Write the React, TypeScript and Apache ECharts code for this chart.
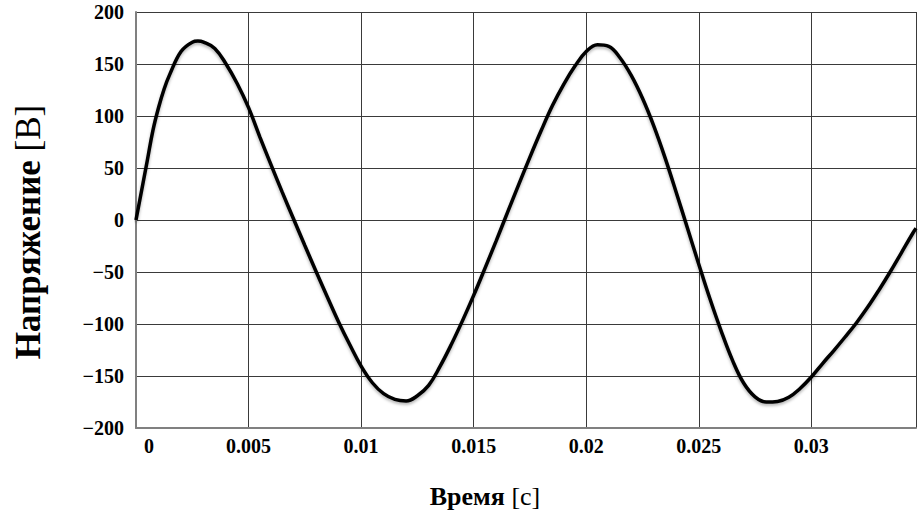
import React, { useEffect, useRef } from "react";
import * as echarts from "echarts";

// Time [s] and voltage [V]
const times: number[] = [
  0, 0.0005, 0.00075, 0.001, 0.00125, 0.0015, 0.002, 0.0025, 0.00275, 0.003,
  0.0035, 0.004, 0.0045, 0.005, 0.0055, 0.006, 0.0065, 0.007, 0.0075, 0.008,
  0.0085, 0.009, 0.0095, 0.01, 0.0105, 0.011, 0.0115, 0.012, 0.0125, 0.013,
  0.0135, 0.014, 0.0145, 0.015, 0.0155, 0.016, 0.0165, 0.017, 0.0175, 0.018,
  0.0185, 0.019, 0.0195, 0.02, 0.0205, 0.021, 0.0215, 0.022, 0.0225, 0.023,
  0.0235, 0.024, 0.0245, 0.025, 0.0255, 0.026, 0.0265, 0.027, 0.0275, 0.028,
  0.0285, 0.029, 0.0295, 0.03, 0.0305, 0.031, 0.0315, 0.032, 0.0325, 0.033,
  0.0335, 0.034, 0.0345, 0.03465,
];
const voltages: number[] = [
  0, 57, 86, 108, 126, 140, 162, 171, 172, 171,
  165, 150, 131, 108, 80, 53, 26.5, 1, -24.5, -49.5,
  -74, -98, -120, -140.5, -156.5, -167, -172.5, -174, -169, -159,
  -141, -120, -97, -72.5, -46.5, -20, 7, 34, 60.5, 86,
  110, 130.5, 148, 162, 168.5, 167, 156, 139, 117, 90.5,
  60, 26.5, -8, -42.5, -76, -107, -135, -157, -170, -175,
  -174.5, -170.5, -162, -151, -138, -125.5, -112.5, -99, -84, -67.5,
  -50, -31.5, -13, -8,
];

const xMin = 0;
const xMax = 0.03465;
const xStep = 0.005;
const yMin = -200;
const yMax = 200;
const yStep = 50;

const xTitleBold = "Время";
const xTitleUnit = "[с]";
const yTitleBold = "Напряжение";
const yTitleUnit = "[В]";

const FONT = "'Liberation Serif', 'Times New Roman', serif";

export default function App() {
  const ref = useRef<HTMLDivElement>(null);

  useEffect(() => {
    if (!ref.current) return;
    const chart = echarts.init(ref.current, null, { renderer: "svg" });
    const data = times.map((t, i) => [t, voltages[i]]);
    chart.setOption({
      animation: false,
      backgroundColor: "#ffffff",
      grid: { left: 136, right: 0, top: 12, bottom: 83, containLabel: false },
      xAxis: {
        type: "value",
        min: xMin,
        max: xMax,
        interval: xStep,
        axisLine: { show: true, onZero: false, lineStyle: { color: "#808080", width: 2 } },
        axisTick: { show: false },
        splitLine: { show: true, lineStyle: { color: "#3a3a3a", width: 1 } },
        axisLabel: {
          margin: 8,
          alignMinLabel: "left",
          fontFamily: FONT,
          fontWeight: "bold",
          fontSize: 20,
          color: "#000",
          formatter: (v: number) => {
            const k = v / xStep;
            if (Math.abs(k - Math.round(k)) > 1e-6) return "";
            if (Math.round(k) === 0) return "{z|0}";
            return String(Number((Math.round(k) * xStep).toFixed(4)));
          },
          rich: {
            z: { padding: [0, 0, 0, 8], fontFamily: FONT, fontWeight: "bold", fontSize: 20, color: "#000" },
          },
        },
      },
      yAxis: {
        type: "value",
        min: yMin,
        max: yMax,
        interval: yStep,
        axisLine: { show: true, lineStyle: { color: "#808080", width: 2 } },
        axisTick: { show: false },
        splitLine: { show: true, lineStyle: { color: "#3a3a3a", width: 1 } },
        axisLabel: {
          margin: 12,
          fontFamily: FONT,
          fontWeight: "bold",
          fontSize: 20,
          color: "#000",
          formatter: (v: number) => String(v).replace("-", "\u2212"),
        },
      },
      graphic: [
        {
          type: "text",
          x: 485,
          y: 496,
          style: {
            text: `{b|${xTitleBold}}{r| ${xTitleUnit}}`,
            align: "center",
            verticalAlign: "middle",
            rich: {
              b: { fontFamily: FONT, fontWeight: "bold", fontSize: 26, fill: "#000" },
              r: { fontFamily: FONT, fontWeight: "normal", fontSize: 26, fill: "#000" },
            },
          },
        },
        {
          type: "text",
          x: 28,
          y: 232,
          rotation: Math.PI / 2,
          style: {
            text: `{b|${yTitleBold}}{r| ${yTitleUnit}}`,
            align: "center",
            verticalAlign: "middle",
            rich: {
              b: { fontFamily: FONT, fontWeight: "bold", fontSize: 35, fill: "#000" },
              r: { fontFamily: FONT, fontWeight: "normal", fontSize: 35, fill: "#000" },
            },
          },
        },
      ],
      series: [
        {
          type: "line",
          data,
          smooth: 0.4,
          showSymbol: false,
          clip: true,
          lineStyle: {
            color: "#000",
            width: 3.5,
            shadowColor: "rgba(0,0,0,0.3)",
            shadowBlur: 3,
            shadowOffsetY: 2,
          },
        },
      ],
    });
    return () => chart.dispose();
  }, []);

  return (
    <div
      ref={ref}
      style={{ position: "fixed", left: 0, top: 0, width: 919, height: 511, background: "#fff" }}
    />
  );
}
